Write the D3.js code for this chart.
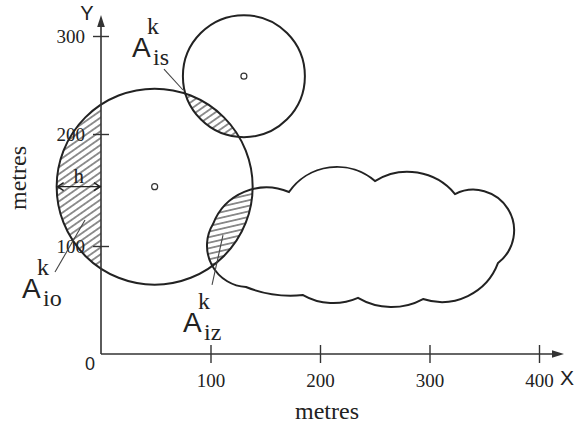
<!DOCTYPE html>
<html>
<head>
<meta charset="utf-8">
<script src="https://cdn.jsdelivr.net/npm/d3@7"></script>
<style>
  html, body { margin: 0; padding: 0; background: #fff; }
  svg { display: block; }
</style>
</head>
<body>
<script>
// Axis ticks (metres)
const xTicks = [100, 200, 300, 400];
const yTicks = [100, 200, 300];

// Circular zones: centre and radius in metres ("i" = main zone, "s" = neighbour)
const zoneNames = ["i", "s"];
const zoneX = [49, 130.5];
const zoneY = [153, 259];
const zoneR = [89.5, 55.7];

// Cloud outline: cusp points, and one point on each lobe running from cusp k to cusp k+1
const cloudCuspX = [132.4, 102.3, 171.7, 250.2, 323.3, 362.6, 294.1, 234.7, 184.5];
const cloudCuspY = [62.0, 119.6, 148.2, 158.0, 146.4, 84.3, 50.9, 51.9, 54.6];
const cloudLobeX = [96.8, 130.6, 211.9, 284.0, 377.2, 335.2, 263.9, 209.1, 158.0];
const cloudLobeY = [100.9, 148.2, 170.5, 166.1, 111.6, 53.7, 43.5, 47.2, 55.1];

// Overlap labels: subscript, leader start / end (metres), label anchor (metres)
const areaSubs = ["is", "io", "iz"];
const leaderX1 = [57.5, -42.0, 101.4];
const leaderY1 = [266.3, 75.9, 63.9];
const leaderX2 = [74.9, -14.6, 111.4];
const leaderY2 = [244.9, 123.2, 109.8];
const labelX = [28.3, -72.1, 74.9];
const labelY = [278.6, 51.9, 20.4];

const W = 584, H = 427;
const INK = "#222";
const SERIF = "'Liberation Serif', 'Times New Roman', serif";
const SANS = "'Liberation Sans', Arial, sans-serif";

const x = d3.scaleLinear().domain([0, 400]).range([101, 539]);
const y = d3.scaleLinear().domain([0, 100, 200, 300]).range([354, 246, 134, 36]);
const rpx = m => x(m) - x(0);

const svg = d3.select("body").append("svg")
  .attr("width", W).attr("height", H).attr("viewBox", `0 0 ${W} ${H}`);
const defs = svg.append("defs");

function hatch(id, angle, gap) {
  const p = defs.append("pattern").attr("id", id)
    .attr("patternUnits", "userSpaceOnUse")
    .attr("width", 12).attr("height", gap)
    .attr("patternTransform", `rotate(${angle})`);
  p.append("line").attr("x1", 0).attr("x2", 12)
    .attr("y1", gap / 2).attr("y2", gap / 2)
    .attr("stroke", "#3a3a3a").attr("stroke-width", 1.1);
}
hatch("hatchDiag", -35, 5.6);
hatch("hatchFlat", -13, 5.4);

// zones in pixel space
const zones = zoneNames.map((n, k) => ({
  name: n, cx: x(zoneX[k]), cy: y(zoneY[k]), r: rpx(zoneR[k])
}));
const big = zones[0], small = zones[1];

// Circle through three points
function circleThrough(a, b, c) {
  const d = 2 * (a[0] * (b[1] - c[1]) + b[0] * (c[1] - a[1]) + c[0] * (a[1] - b[1]));
  const a2 = a[0] * a[0] + a[1] * a[1], b2 = b[0] * b[0] + b[1] * b[1], c2 = c[0] * c[0] + c[1] * c[1];
  const ux = (a2 * (b[1] - c[1]) + b2 * (c[1] - a[1]) + c2 * (a[1] - b[1])) / d;
  const uy = (a2 * (c[0] - b[0]) + b2 * (a[0] - c[0]) + c2 * (b[0] - a[0])) / d;
  return [ux, uy, Math.hypot(a[0] - ux, a[1] - uy)];
}
const cross = (o, p, q) => (p[0] - o[0]) * (q[1] - o[1]) - (p[1] - o[1]) * (q[0] - o[0]);

// Cloud path built from arcs between cusps
const cusps = cloudCuspX.map((v, k) => [x(v), y(cloudCuspY[k])]);
const lobes = cloudLobeX.map((v, k) => [x(v), y(cloudLobeY[k])]);
let cloudD = `M${cusps[0][0]},${cusps[0][1]}`;
cusps.forEach((a, k) => {
  const b = cusps[(k + 1) % cusps.length];
  const p = lobes[k];
  const [cx, cy, r] = circleThrough(a, p, b);
  const sP = cross(a, b, p), sC = cross(a, b, [cx, cy]);
  const large = sP * sC > 0 ? 1 : 0;
  const sweep = cross(a, p, b) > 0 ? 1 : 0;
  cloudD += `A${r},${r} 0 ${large} ${sweep} ${b[0]},${b[1]}`;
});
cloudD += "Z";

// clip paths
defs.append("clipPath").attr("id", "clipBig")
  .append("circle").attr("cx", big.cx).attr("cy", big.cy).attr("r", big.r);
defs.append("clipPath").attr("id", "clipSmall")
  .append("circle").attr("cx", small.cx).attr("cy", small.cy).attr("r", small.r);
defs.append("clipPath").attr("id", "clipCloud")
  .append("path").attr("d", cloudD);

// hatched overlap areas
svg.append("g").attr("clip-path", "url(#clipBig)")
  .append("rect").attr("x", 0).attr("y", 0).attr("width", x(0)).attr("height", H)
  .attr("fill", "url(#hatchDiag)");
svg.append("g").attr("clip-path", "url(#clipSmall)")
  .append("circle").attr("cx", big.cx).attr("cy", big.cy).attr("r", big.r)
  .attr("fill", "url(#hatchDiag)");
svg.append("g").attr("clip-path", "url(#clipCloud)")
  .append("circle").attr("cx", big.cx).attr("cy", big.cy).attr("r", big.r)
  .attr("fill", "url(#hatchFlat)");

// outlines
svg.append("path").attr("d", cloudD)
  .attr("fill", "none").attr("stroke", INK).attr("stroke-width", 2);
svg.selectAll("circle.zone").data(zones).join("circle").attr("class", "zone")
  .attr("cx", d => d.cx).attr("cy", d => d.cy).attr("r", d => d.r)
  .attr("fill", "none").attr("stroke", INK).attr("stroke-width", 2);
svg.selectAll("circle.centre").data(zones).join("circle").attr("class", "centre")
  .attr("cx", d => d.cx).attr("cy", d => d.cy).attr("r", 3)
  .attr("fill", "#fff").attr("stroke", "#333").attr("stroke-width", 1.2);

// axes
const AX = "#333";
svg.append("line").attr("x1", x(0)).attr("x2", 556).attr("y1", y(0)).attr("y2", y(0))
  .attr("stroke", AX).attr("stroke-width", 1.6);
svg.append("line").attr("x1", x(0)).attr("x2", x(0)).attr("y1", y(0)).attr("y2", 24)
  .attr("stroke", AX).attr("stroke-width", 1.6);
svg.append("path").attr("d", `M${x(0)},15L${x(0) - 3.8},27L${x(0) + 3.8},27Z`).attr("fill", AX);
svg.append("path").attr("d", `M564,${y(0)}L552,${y(0) - 3.8}L552,${y(0) + 3.8}Z`).attr("fill", AX);

const gx = svg.append("g").attr("transform", `translate(0,${y(0)})`)
  .call(d3.axisBottom(x).tickValues(xTicks).tickSize(9).tickFormat(d3.format("d")));
gx.select(".domain").remove();
gx.selectAll(".tick line").attr("y1", -9).attr("y2", 9).attr("stroke", AX).attr("stroke-width", 1.4);
gx.selectAll(".tick text").attr("y", 33).attr("dy", null)
  .attr("font-family", SERIF).attr("font-size", 19).attr("fill", INK);

const gy = svg.append("g").attr("transform", `translate(${x(0)},0)`)
  .call(d3.axisLeft(y).tickValues(yTicks).tickSize(8).tickFormat(d3.format("d")));
gy.select(".domain").remove();
gy.selectAll(".tick line").attr("x1", -8).attr("x2", 8).attr("stroke", AX).attr("stroke-width", 1.4);
gy.selectAll(".tick text").attr("x", -16).attr("dy", "0.32em")
  .attr("font-family", SERIF).attr("font-size", 19).attr("fill", INK);

svg.append("text").attr("x", 90).attr("y", 370).attr("text-anchor", "middle")
  .attr("font-family", SANS).attr("font-size", 18).attr("fill", INK).text("0");
svg.append("text").attr("x", 560).attr("y", 385)
  .attr("font-family", SANS).attr("font-size", 21).attr("fill", INK).text("X");
svg.append("text").attr("x", 87).attr("y", 20).attr("text-anchor", "middle")
  .attr("font-family", SANS).attr("font-size", 20).attr("fill", INK).text("Y");

svg.append("text").attr("x", 327).attr("y", 419).attr("text-anchor", "middle")
  .attr("font-family", SERIF).attr("font-size", 24).attr("fill", INK).text("metres");
svg.append("text").attr("transform", "translate(26,178) rotate(-90)").attr("text-anchor", "middle")
  .attr("font-family", SERIF).attr("font-size", 24).attr("fill", INK).text("metres");

// distance h from zone edge to the y axis
const hy = big.cy;
const hx1 = big.cx - big.r, hx2 = x(0);
svg.append("line").attr("x1", hx1).attr("x2", hx2).attr("y1", hy).attr("y2", hy)
  .attr("stroke", INK).attr("stroke-width", 1.4);
svg.append("path").attr("d", `M${hx1 + 7},${hy - 4}L${hx1 + 1},${hy}L${hx1 + 7},${hy + 4}`)
  .attr("fill", "none").attr("stroke", INK).attr("stroke-width", 1.6);
svg.append("path").attr("d", `M${hx2 - 7},${hy - 4}L${hx2 - 1},${hy}L${hx2 - 7},${hy + 4}`)
  .attr("fill", "none").attr("stroke", INK).attr("stroke-width", 1.6);
svg.append("text").attr("x", (hx1 + hx2) / 2).attr("y", hy - 4).attr("text-anchor", "middle")
  .attr("font-family", SERIF).attr("font-size", 21).attr("fill", INK).text("h");

// overlap labels with leaders
areaSubs.forEach((s, k) => {
  svg.append("line")
    .attr("x1", x(leaderX1[k])).attr("y1", y(leaderY1[k]))
    .attr("x2", x(leaderX2[k])).attr("y2", y(leaderY2[k]))
    .attr("stroke", "#444").attr("stroke-width", 1.1);
  const lx = x(labelX[k]), ly = y(labelY[k]);
  const g = svg.append("g").attr("fill", INK);
  g.append("text").attr("x", lx).attr("y", ly)
    .attr("font-family", SANS).attr("font-size", 28).text("A");
  g.append("text").attr("x", lx + 15).attr("y", ly - 23)
    .attr("font-family", SERIF).attr("font-size", 24).text("k");
  g.append("text").attr("x", lx + 21).attr("y", ly + 8)
    .attr("font-family", SERIF).attr("font-size", 24).text(s);
});
</script>
</body>
</html>
